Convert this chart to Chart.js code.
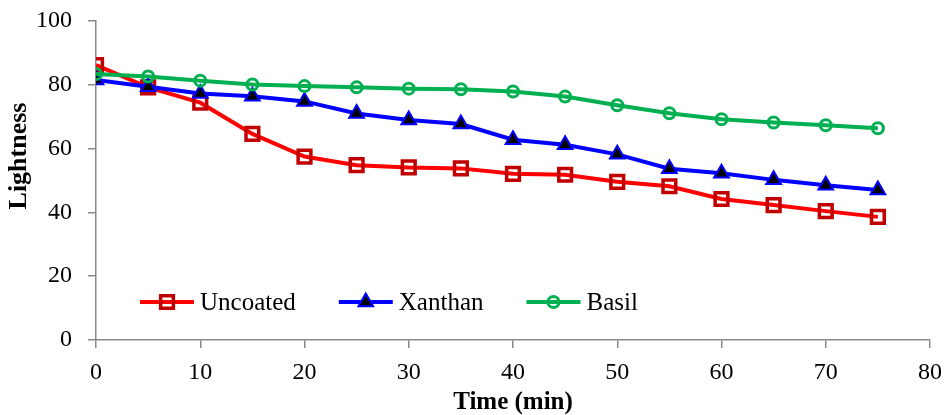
<!DOCTYPE html>
<html lang="en">
<head>
    <meta charset="UTF-8">
    <title>Lightness vs Time</title>
    <script src="https://cdn.jsdelivr.net/npm/chart.js"></script>
    <style>
        body {
            margin: 0;
            background: white;
        }
        canvas {
            display: block;
        }
    </style>
</head>
<body>
    <canvas id="lightChart" width="946" height="415"></canvas>

    <script>
        const time = [0, 5, 10, 15, 20, 25, 30, 35, 40, 45, 50, 55, 60, 65, 70, 75];
        const uncoated = [86.2, 79.2, 74.4, 64.6, 57.5, 54.8, 54.1, 53.8, 52.1, 51.8, 49.6, 48.2, 44.2, 42.3, 40.4, 38.6];
        const xanthan = [81.5, 79.4, 77.3, 76.4, 74.8, 71.0, 69.0, 67.7, 62.8, 61.2, 58.2, 53.7, 52.3, 50.2, 48.5, 47.0];
        const basil = [83.4, 82.6, 81.3, 80.1, 79.6, 79.2, 78.8, 78.6, 77.9, 76.3, 73.6, 71.1, 69.2, 68.2, 67.3, 66.4];
        const yTitle = 'Lightness';

        const axisGray = '#898989';
        const serif = "'Liberation Serif', 'Times New Roman', serif";

        function pairs(values) {
            return values.map((v, i) => ({ x: time[i], y: v }));
        }

        function drawMarker(ctx, ds, x, y) {
            const r = ds.pointRadius;
            ctx.save();
            ctx.lineWidth = ds.pointBorderWidth;
            ctx.strokeStyle = ds.pointBorderColor;
            ctx.fillStyle = ds.pointBackgroundColor;
            ctx.beginPath();
            if (ds.pointStyle === 'rect') {
                const s = r * Math.SQRT1_2;
                ctx.rect(x - s, y - s, 2 * s, 2 * s);
            } else if (ds.pointStyle === 'triangle') {
                for (let k = 0; k < 3; k++) {
                    const a = k * 2 * Math.PI / 3;
                    const px = x + Math.sin(a) * r, py = y - Math.cos(a) * r;
                    if (k === 0) ctx.moveTo(px, py); else ctx.lineTo(px, py);
                }
                ctx.closePath();
            } else {
                ctx.arc(x, y, r, 0, Math.PI * 2);
            }
            ctx.fill();
            ctx.stroke();
            ctx.restore();
        }

        // legend inside the plot (line + marker) and the y title, which sits above centre in the original
        const extras = {
            id: 'extras',
            afterDraw(chart) {
                const ctx = chart.ctx;
                const y = 302;
                let x = 140;
                ctx.save();
                ctx.font = '25px ' + serif;
                ctx.textBaseline = 'middle';
                chart.data.datasets.forEach(ds => {
                    ctx.strokeStyle = ds.borderColor;
                    ctx.lineWidth = ds.borderWidth;
                    ctx.beginPath();
                    ctx.moveTo(x, y);
                    ctx.lineTo(x + 54, y);
                    ctx.stroke();
                    drawMarker(ctx, ds, x + 27, y);
                    ctx.fillStyle = '#000';
                    ctx.fillText(ds.label, x + 60, y + 1);
                    x += 60 + ctx.measureText(ds.label).width + 43;
                });

                ctx.translate(19, 156);
                ctx.rotate(-Math.PI / 2);
                ctx.textAlign = 'center';
                ctx.font = 'bold 26px ' + serif;
                ctx.fillText(yTitle, 0, 0);
                ctx.restore();
            }
        };

        const ctx = document.getElementById('lightChart').getContext('2d');

        new Chart(ctx, {
            type: 'line',
            data: {
                datasets: [
                    {
                        label: 'Uncoated', data: pairs(uncoated), order: 3,
                        borderColor: '#FF0000', borderWidth: 4,
                        pointStyle: 'rect', pointRadius: 9, pointBorderWidth: 3.5,
                        pointBorderColor: '#C00000', pointBackgroundColor: 'rgba(255,255,255,0)'
                    },
                    {
                        label: 'Xanthan', data: pairs(xanthan), order: 2,
                        borderColor: '#0000FF', borderWidth: 4,
                        pointStyle: 'triangle', pointRadius: 8.5, pointBorderWidth: 2,
                        pointBorderColor: '#0000FF', pointBackgroundColor: '#000000'
                    },
                    {
                        label: 'Basil', data: pairs(basil), order: 1,
                        borderColor: '#00B050', borderWidth: 4,
                        pointStyle: 'circle', pointRadius: 5.5, pointBorderWidth: 3,
                        pointBorderColor: '#00B050', pointBackgroundColor: 'rgba(255,255,255,0)'
                    }
                ]
            },
            options: {
                responsive: false,
                animation: false,
                layout: { padding: { left: 0, right: 16, top: 21, bottom: 0 } },
                plugins: {
                    legend: { display: false },
                    tooltip: { enabled: false }
                },
                scales: {
                    x: {
                        type: 'linear', min: 0, max: 80,
                        ticks: { stepSize: 10, color: '#000', padding: 10, font: { family: serif, size: 24 } },
                        grid: { drawOnChartArea: false, tickLength: 8, color: axisGray, lineWidth: 1.5 },
                        border: { color: axisGray, width: 1.5 },
                        title: { display: true, text: 'Time (min)', color: '#000', padding: { top: 0, bottom: -3 }, font: { family: serif, size: 25, weight: 'bold' } },
                        afterFit(scale) {
                            scale.height = 75;
                            scale.paddingLeft = 0;
                            scale.paddingRight = 0;
                        }
                    },
                    y: {
                        min: 0, max: 100,
                        ticks: { stepSize: 20, color: '#000', padding: 16, font: { family: serif, size: 24 } },
                        grid: { drawOnChartArea: false, tickLength: 8, color: axisGray, lineWidth: 1.5 },
                        border: { color: axisGray, width: 1.5 },
                        title: { display: false },
                        afterFit(scale) {
                            scale.width = 96;
                            scale.paddingTop = 0;
                            scale.paddingBottom = 0;
                        }
                    }
                }
            },
            plugins: [extras]
        });
    </script>
</body>
</html>
